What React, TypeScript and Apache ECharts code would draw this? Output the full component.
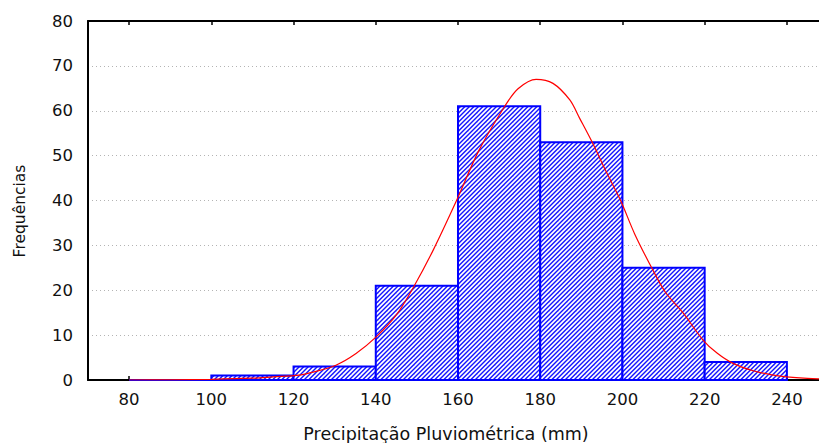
import React, { useEffect, useRef } from "react";
import * as echarts from "echarts";

// Histogram bins (mm) and frequencies
const binStarts = [80, 100, 120, 140, 160, 180, 200, 220];
const binEnds = [100, 120, 140, 160, 180, 200, 220, 240];
const frequencies = [0, 1, 3, 21, 61, 53, 25, 4];

// Fitted curve
const curveX = [80, 90, 100, 110, 115, 121.4, 125, 130.3, 135.2, 140.1, 145, 149, 154, 159.7, 165, 171.3, 174.6, 179, 183.1, 187.2, 189.6, 192.8, 196, 199.5, 203, 207.4, 210.5, 214.8, 219.6, 223, 226.9, 232, 236, 239.9, 245, 250];
const curveY = [0.0, 0.05, 0.15, 0.4, 0.7, 1.1, 1.8, 3.3, 5.9, 9.6, 14.5, 20.4, 29, 40.1, 51, 60.9, 64.9, 67.0, 66.1, 62.4, 58.3, 52.7, 46.5, 40.1, 32.5, 24.5, 19.5, 14.9, 8.9, 6.0, 3.7, 2.0, 1.2, 0.7, 0.35, 0.2];

const xTickLabels = [80, 100, 120, 140, 160, 180, 200, 220, 240];
const yTickLabels = [0, 10, 20, 30, 40, 50, 60, 70, 80];

const FONT = "DejaVu Sans";

function makeHatch(): HTMLCanvasElement {
  const n = 9;
  const c = document.createElement("canvas");
  c.width = n;
  c.height = n;
  const ctx = c.getContext("2d")!;
  ctx.fillStyle = "#ffffff";
  ctx.fillRect(0, 0, n, n);
  ctx.strokeStyle = "#1414ff";
  ctx.lineWidth = 1.4;
  for (let k = -3; k <= 3; k++) {
    const a = k * 4.5;
    ctx.beginPath();
    ctx.moveTo(a - 2, n + 2);
    ctx.lineTo(a + n + 2, -2);
    ctx.stroke();
  }
  return c;
}

export default function App() {
  const ref = useRef<HTMLDivElement>(null);
  useEffect(() => {
    if (!ref.current) return;
    const chart = echarts.init(ref.current, null, { renderer: "svg" });
    const hatch = makeHatch();
    const barData = binStarts.map((s, i) => [s, binEnds[i], frequencies[i]]);
    const curveData = curveX.map((x, i) => [x, curveY[i]]);
    chart.setOption({
      animation: false,
      backgroundColor: "#ffffff",
      grid: { left: 88, right: -9, top: 21, bottom: 63, outerBoundsMode: "none" },
      xAxis: [
        {
          type: "value",
          min: 70,
          max: 250,
          position: "bottom",
          axisLine: { show: true, lineStyle: { color: "#000", width: 2 } },
          axisTick: { show: true, inside: true, length: 4, customValues: xTickLabels, lineStyle: { color: "#000", width: 1.5 } },
          axisLabel: { customValues: xTickLabels, color: "#111", fontFamily: FONT, fontSize: 16.5, margin: 11 },
          splitLine: { show: false },
        },
        {
          type: "value",
          min: 70,
          max: 250,
          position: "top",
          axisLine: { show: true, lineStyle: { color: "#000", width: 2 } },
          axisTick: { show: true, inside: true, length: 4, customValues: xTickLabels, lineStyle: { color: "#000", width: 1.5 } },
          axisLabel: { show: false },
          splitLine: { show: false },
        },
      ],
      yAxis: {
        type: "value",
        min: 0,
        max: 80,
        interval: 10,
        axisLine: { show: true, lineStyle: { color: "#000", width: 2 } },
        axisTick: { show: false },
        axisLabel: {
          color: "#111",
          fontFamily: FONT,
          fontSize: 16.5,
          margin: 15,
          customValues: yTickLabels,
        },
        splitLine: { show: true, lineStyle: { color: "#b4b4b4", type: [1, 3], width: 1 } },
      },
      graphic: [
        {
          type: "text",
          x: 446,
          y: 434,
          style: {
            text: "Precipitação Pluviométrica (mm)",
            font: `17.5px "${FONT}"`,
            fill: "#111",
            align: "center",
            verticalAlign: "middle",
          },
        },
        {
          type: "text",
          x: 20,
          y: 211,
          rotation: Math.PI / 2,
          style: {
            text: "Frequências",
            font: `15.5px "${FONT}"`,
            fill: "#111",
            align: "center",
            verticalAlign: "middle",
          },
        },
      ],
      series: [
        {
          type: "custom",
          xAxisIndex: 0,
          yAxisIndex: 0,
          z: 3,
          encode: { x: [0, 1], y: 2 },
          data: barData,
          renderItem: (params: any, api: any) => {
            const x0 = api.value(0);
            const x1 = api.value(1);
            const v = api.value(2);
            const p0 = api.coord([x0, v]);
            const p1 = api.coord([x1, 0]);
            return {
              type: "rect",
              shape: { x: p0[0], y: p0[1], width: p1[0] - p0[0], height: p1[1] - p0[1] },
              style: {
                fill: { image: hatch, repeat: "repeat" },
                stroke: "#0000ff",
                lineWidth: 2,
              },
            };
          },
        },
        {
          type: "line",
          xAxisIndex: 0,
          yAxisIndex: 0,
          z: 4,
          data: curveData,
          smooth: 0.3,
          symbol: "none",
          lineStyle: { color: "#ff0000", width: 1.2 },
        },
      ],
    });
    return () => chart.dispose();
  }, []);
  return (
    <div
      ref={ref}
      style={{ position: "fixed", left: 0, top: 0, width: 819, height: 443, background: "#fff" }}
    />
  );
}
